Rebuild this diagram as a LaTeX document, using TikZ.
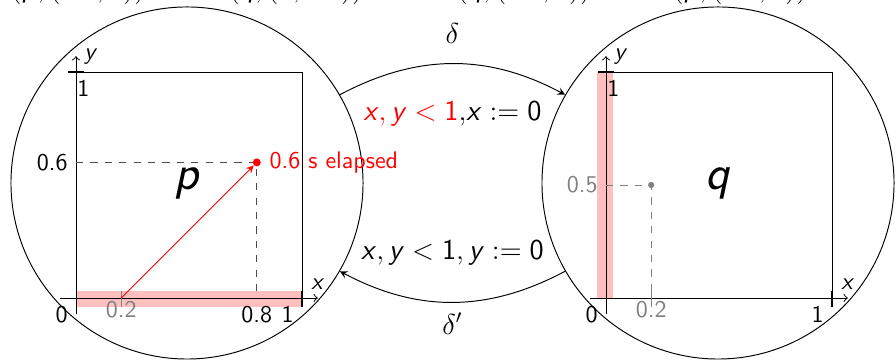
\documentclass[tikz,border=0pt]{standalone}
\usepackage{tikz}
\usetikzlibrary{calc}
\newcommand{\vr}[1]{\textsf{\textit{#1}}}
\newcommand{\nm}[1]{\textsf{#1}}
\newcommand{\ClockFrame}[2][]{
  \begin{scope}[#1]
    \draw[axis](-0.07,0)--(1.07,0)node[above](#2xl){$\vr{x}$};
    \draw[axis](0,-0.07)--(0,1.07)node[right](#2yl){$\vr{y}$};
    \draw(0,1)--(1,1)--(1,0);
    \draw[thick](1,-0.04)--(1,0.03)(-0.035,1)--(0.035,1);
    \node[below left](#2o)at(0,0){\nm{0}};
    \node[below left](#2xa)at(1,0){\nm{1}};
    \node[below right,xshift=-3pt](#2ya)at(0,1){\nm{1}};
  \end{scope}
}

\begin{document}
\begin{tikzpicture}[>=stealth,x=0.4167pt,y=0.4167pt,font=\sffamily,
  loc/.style={circle,draw,minimum size=146.7pt,inner sep=0pt,font=\huge},
  axis/.style={->,>=to},
  band/.style={fill=red!25},
  guide/.style={dashed,black!70},
  dot/.style={circle,fill,inner sep=0pt,minimum size=#1},
  lab/.style={font=\large}]
  \useasboundingbox(0,0)rectangle(896,362);
  \node[lab,anchor=base](c1)at(78,364){$(\vr{p},(\nm{0.2},\nm{0}))$};
  \node[lab,anchor=base](c2)at(296,364){$(\vr{q},(\nm{0},\nm{0.6}))$};
  \node[lab,anchor=base](c3)at(524,364){$(\vr{q},(\nm{0.2},\nm{0}))$};
  \node[lab,anchor=base](c4)at(740,364){$(\vr{p},(\nm{0.2},\nm{0}))$};
  \node[loc](p)at(187,179){$\vr{p}$};
  \node[loc](q)at(718,179){$\vr{q}$};
  \begin{scope}[shift={(76,64)},x=94.17pt,y=94.17pt]
    \fill[band](0,-0.04)rectangle(1,0.03);
    \ClockFrame{p}
    \draw[gray](0.2,-0.04)--(0.2,0.03);
    \node[below,inner sep=1pt,gray](p02)at(0.2,0){\nm{0.2}};
    \draw[guide](0,0.6)--(0.8,0.6)--(0.8,0);
    \node[left](p06)at(0,0.6){\nm{0.6}};
    \node[below](p08)at(0.8,0){\nm{0.8}};
    \coordinate(pstart)at(0.2,0);
    \node[dot=3.3pt,red](pnow)at(0.8,0.6){};
    \draw[red,->](pstart)--(pnow);
    \node[right,red](pel)at(pnow.east){0.6 s elapsed};
  \end{scope}
  \begin{scope}[shift={(606,64)},x=94.17pt,y=94.17pt]
    \fill[band](-0.04,0)rectangle(0.03,1);
    \ClockFrame{q}
    \draw[gray](0.2,-0.04)--(0.2,0.03);
    \node[below,inner sep=1pt,gray](q02)at(0.2,0){\nm{0.2}};
    \draw[guide,gray](0,0.5)--(0.2,0.5)--(0.2,0);
    \node[left,gray](q05)at(0,0.5){\nm{0.5}};
    \node[dot=2.6pt,gray](qnow)at(0.2,0.5){};
  \end{scope}
  \draw[->](p.30)to[bend left=28]
    node[lab,below=12pt](g1){{\color{red}$\vr{x},\vr{y}<\nm{1}$},$\vr{x}:=\nm{0}$}
    node[lab,above=5pt](e1){$\delta$}(q.150);
  \draw[->](q.210)to[bend left=28]
    node[lab,above=12pt](g2){$\vr{x},\vr{y}<\nm{1},\vr{y}:=\nm{0}$}
    node[lab,below=1pt](e2){$\delta'$}(p.330);
\end{tikzpicture}
\end{document}
